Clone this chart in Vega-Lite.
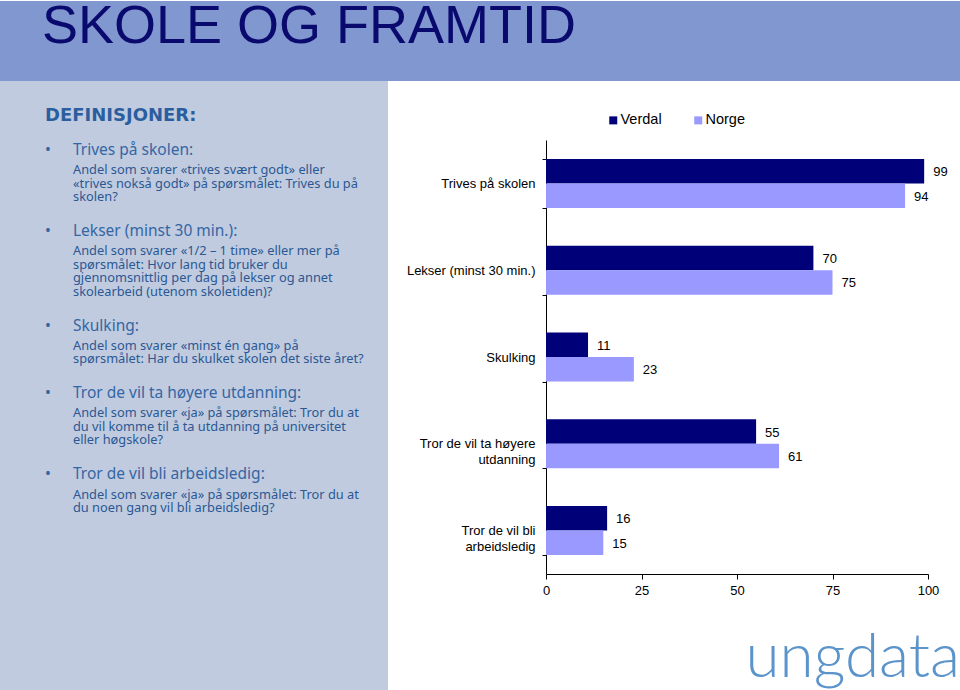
{
  "$schema": "https://vega.github.io/schema/vega-lite/v6.json",
  "padding": 0,
  "background": "#ffffff",
  "bounds": "flush",
  "spacing": 0,
  "config": {"view": {"stroke": null}, "font": "Liberation Sans"},
  "datasets": {
    "defs": [
      {"kind": "def", "row": 0, "text": "DEFINISJONER:"},
      {"kind": "head", "row": 5, "text": "Trives på skolen:"},
      {"kind": "sub", "row": 8, "text": "Andel som svarer «trives svært godt» eller"},
      {"kind": "sub", "row": 10, "text": "«trives nokså godt» på spørsmålet: Trives du på"},
      {"kind": "sub", "row": 12, "text": "skolen?"},
      {"kind": "head", "row": 17, "text": "Lekser (minst 30 min.):"},
      {"kind": "sub", "row": 20, "text": "Andel som svarer «1/2 – 1 time» eller mer på"},
      {"kind": "sub", "row": 22, "text": "spørsmålet: Hvor lang tid bruker du"},
      {"kind": "sub", "row": 24, "text": "gjennomsnittlig per dag på lekser og annet"},
      {"kind": "sub", "row": 26, "text": "skolearbeid (utenom skoletiden)?"},
      {"kind": "head", "row": 31, "text": "Skulking:"},
      {"kind": "sub", "row": 34, "text": "Andel som svarer «minst én gang» på"},
      {"kind": "sub", "row": 36, "text": "spørsmålet: Har du skulket skolen det siste året?"},
      {"kind": "head", "row": 41, "text": "Tror de vil ta høyere utdanning:"},
      {"kind": "sub", "row": 44, "text": "Andel som svarer «ja» på spørsmålet: Tror du at"},
      {"kind": "sub", "row": 46, "text": "du vil komme til å ta utdanning på universitet"},
      {"kind": "sub", "row": 48, "text": "eller høgskole?"},
      {"kind": "head", "row": 53, "text": "Tror de vil bli arbeidsledig:"},
      {"kind": "sub", "row": 56, "text": "Andel som svarer «ja» på spørsmålet: Tror du at"},
      {"kind": "sub", "row": 58, "text": "du noen gang vil bli arbeidsledig?"}
    ],
    "results": [
      {"cat": "Trives på skolen", "grp": "Verdal", "v": 99},
      {"cat": "Trives på skolen", "grp": "Norge", "v": 94},
      {"cat": "Lekser (minst 30 min.)", "grp": "Verdal", "v": 70},
      {"cat": "Lekser (minst 30 min.)", "grp": "Norge", "v": 75},
      {"cat": "Skulking", "grp": "Verdal", "v": 11},
      {"cat": "Skulking", "grp": "Norge", "v": 23},
      {"cat": "Tror de vil ta høyere utdanning", "grp": "Verdal", "v": 55},
      {"cat": "Tror de vil ta høyere utdanning", "grp": "Norge", "v": 61},
      {"cat": "Tror de vil bli arbeidsledig", "grp": "Verdal", "v": 16},
      {"cat": "Tror de vil bli arbeidsledig", "grp": "Norge", "v": 15}
    ]
  },
  "vconcat": [
    {
      "width": 960,
      "height": 80,
      "view": {"fill": "#8097d0", "stroke": null},
      "title": {
        "text": "SKOLE OG FRAMTID",
        "orient": "bottom",
        "anchor": "start",
        "frame": "group",
        "offset": -38,
        "dx": 42,
        "baseline": "alphabetic",
        "font": "Liberation Sans",
        "fontSize": 54,
        "fontWeight": "normal",
        "color": "#0a0a6e"
      },
      "data": {"values": []},
      "mark": "text"
    },
    {
      "bounds": "flush",
      "spacing": 158,
      "hconcat": [
        {
          "width": 388,
          "height": 610,
          "view": {"fill": "#c0cbdf", "stroke": null},
          "data": {"name": "defs"},
          "encoding": {
            "y": {"field": "row", "type": "quantitative", "scale": {"domain": [-5.18, 85.07], "reverse": true, "nice": false, "zero": false}, "axis": null}
          },
          "layer": [
            {
              "transform": [{"filter": "datum.kind === 'def'"}],
              "mark": {"type": "text", "align": "left", "baseline": "middle", "font": "DejaVu Sans", "fontWeight": "bold", "fontSize": 18, "color": "#2b5e9e"},
              "encoding": {
                "x": {"datum": "a", "type": "nominal", "scale": {"type": "point", "domain": ["a", "b"], "range": [45, 73], "padding": 0}, "axis": null},
                "text": {"field": "text"}
              }
            },
            {
              "transform": [{"filter": "datum.kind === 'head'"}],
              "mark": {"type": "text", "align": "left", "baseline": "middle", "font": "Noto Sans", "fontSize": 15.5, "color": "#3566a4"},
              "encoding": {
                "x": {"datum": "a", "type": "nominal", "scale": {"type": "point", "domain": ["a", "b"], "range": [45, 73], "padding": 0}, "axis": null},
                "text": {"value": "•"}
              }
            },
            {
              "transform": [{"filter": "datum.kind === 'head'"}],
              "mark": {"type": "text", "align": "left", "baseline": "middle", "font": "Noto Sans", "fontSize": 15.5, "color": "#3566a4"},
              "encoding": {
                "x": {"datum": "b", "type": "nominal", "scale": {"type": "point", "domain": ["a", "b"], "range": [45, 73], "padding": 0}, "axis": null},
                "text": {"field": "text"}
              }
            },
            {
              "transform": [{"filter": "datum.kind === 'sub'"}],
              "mark": {"type": "text", "align": "left", "baseline": "middle", "font": "Noto Sans", "fontSize": 12.8, "color": "#2b5893"},
              "encoding": {
                "x": {"datum": "b", "type": "nominal", "scale": {"type": "point", "domain": ["a", "b"], "range": [45, 73], "padding": 0}, "axis": null},
                "text": {"field": "text"}
              }
            }
          ]
        },
        {
          "width": 382,
          "height": 493,
          "data": {"name": "results"},
          "title": {
            "text": "ungdata",
            "orient": "bottom",
            "anchor": "end",
            "frame": "group",
            "offset": 80,
            "dx": 32,
            "baseline": "alphabetic",
            "font": "Lato",
            "fontSize": 62,
            "fontWeight": 300,
            "color": "#5b93cb"
          },
          "encoding": {
            "y": {
              "field": "cat",
              "type": "nominal",
              "sort": null,
              "scale": {"range": [59, 493], "paddingInner": 0.435, "paddingOuter": 0.2175},
              "axis": {
                "title": null,
                "domainColor": "#000000",
                "tickColor": "#000000",
                "tickBand": "extent",
                "tickSize": 4,
                "labelPadding": 7,
                "labelFontSize": 13,
                "labelColor": "#000000",
                "labelLimit": 0,
                "labelLineHeight": 16,
                "grid": false,
                "labelExpr": "datum.value === 'Tror de vil ta høyere utdanning' ? ['Tror de vil ta høyere', 'utdanning'] : datum.value === 'Tror de vil bli arbeidsledig' ? ['Tror de vil bli', 'arbeidsledig'] : datum.label"
              }
            },
            "yOffset": {"field": "grp", "type": "nominal", "sort": ["Verdal", "Norge"]},
            "x": {
              "field": "v",
              "type": "quantitative",
              "scale": {"domain": [0, 100], "nice": false},
              "axis": {
                "title": null,
                "values": [0, 25, 50, 75, 100],
                "domainColor": "#000000",
                "tickColor": "#000000",
                "tickSize": 5,
                "labelPadding": 5,
                "labelFontSize": 13,
                "labelColor": "#000000",
                "labelFlush": false,
                "grid": false
              }
            }
          },
          "layer": [
            {
              "mark": {"type": "bar"},
              "encoding": {
                "color": {
                  "field": "grp",
                  "type": "nominal",
                  "scale": {"domain": ["Verdal", "Norge"], "range": ["#000078", "#9999ff"]},
                  "legend": {
                    "orient": "none",
                    "legendX": 606,
                    "legendY": 112,
                    "direction": "horizontal",
                    "title": null,
                    "symbolType": "square",
                    "symbolSize": 64,
                    "symbolStrokeWidth": 0,
                    "labelFontSize": 14.5,
                    "labelColor": "#000000",
                    "labelOffset": 0,
                    "columnPadding": 29,
                    "padding": 0
                  }
                }
              }
            },
            {
              "mark": {"type": "text", "align": "left", "baseline": "middle", "dx": 9, "dy": 1, "fontSize": 13, "color": "#000000"},
              "encoding": {"text": {"field": "v", "type": "quantitative"}}
            }
          ]
        }
      ]
    }
  ]
}
